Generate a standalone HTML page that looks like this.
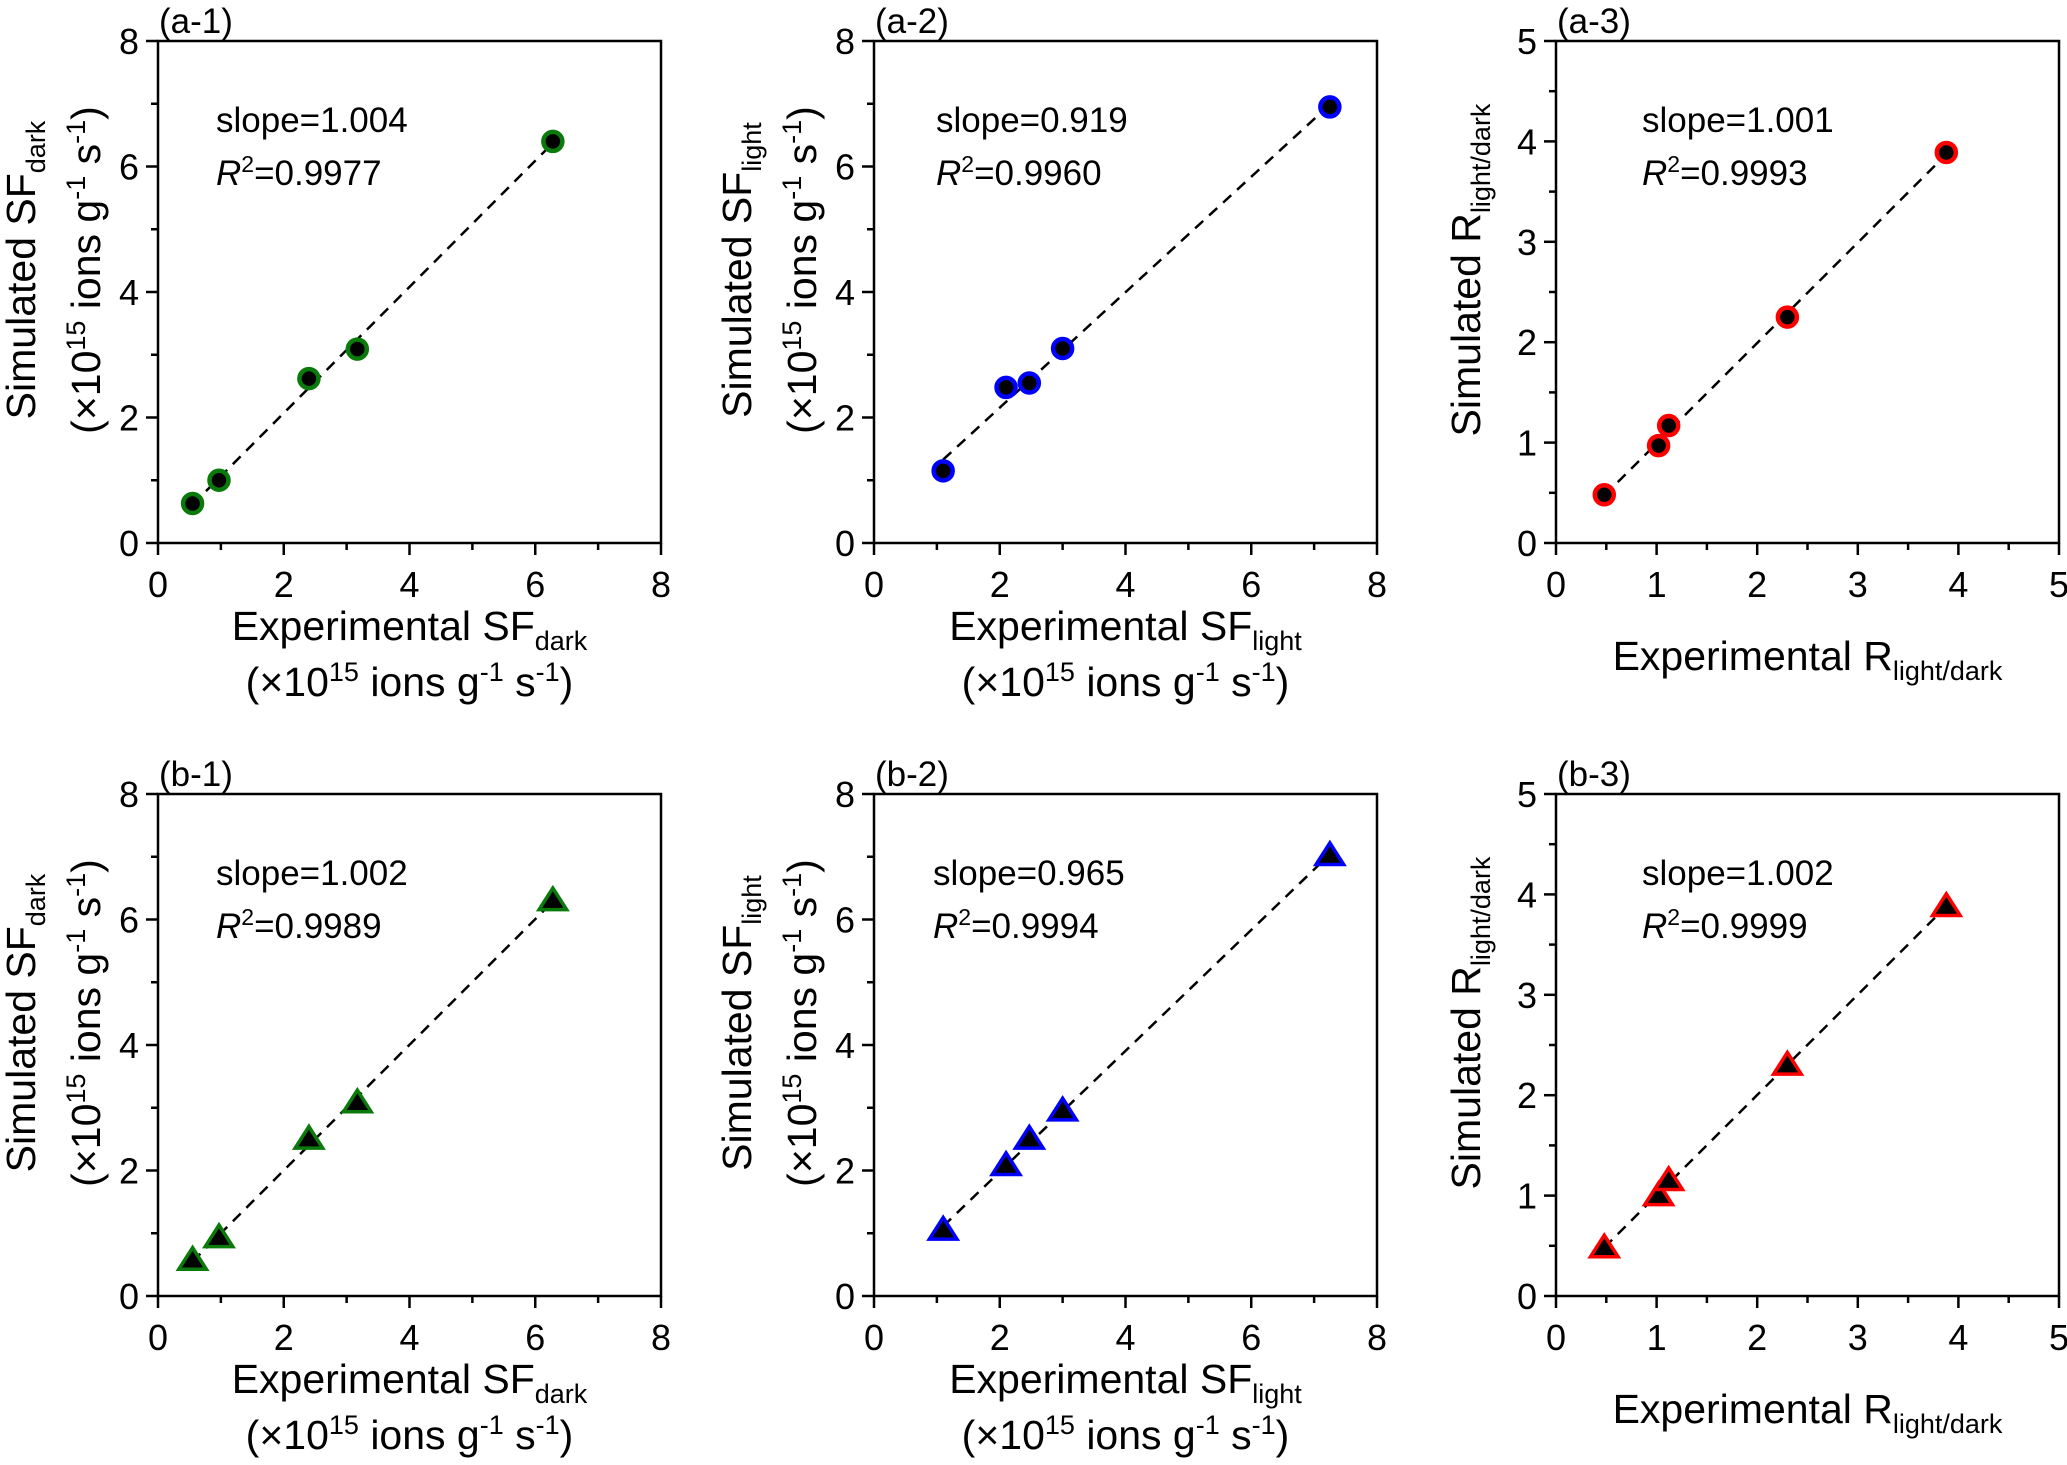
<!DOCTYPE html>
<html><head><meta charset="utf-8">
<style>
html,body{margin:0;padding:0;background:#fff;}
svg{display:block;font-family:"Liberation Sans",Arial,sans-serif;}
</style></head>
<body>
<svg id="fig" width="2067" height="1465" viewBox="0 0 2067 1465" xmlns="http://www.w3.org/2000/svg"></svg>
<script>
// ---- data ----
const a1X = [0.55, 0.97, 2.40, 3.17, 6.28];
const a1Y = [0.63, 1.00, 2.62, 3.09, 6.40];
const a2X = [1.10, 2.10, 2.47, 3.00, 7.25];
const a2Y = [1.15, 2.48, 2.55, 3.10, 6.95];
const a3X = [0.48, 1.02, 1.12, 2.30, 3.88];
const a3Y = [0.48, 0.97, 1.17, 2.25, 3.89];
const b1X = [0.55, 0.97, 2.40, 3.17, 6.28];
const b1Y = [0.57, 0.93, 2.50, 3.08, 6.30];
const b2X = [1.10, 2.10, 2.47, 3.00, 7.25];
const b2Y = [1.05, 2.08, 2.50, 2.95, 7.02];
const b3X = [0.48, 1.02, 1.12, 2.30, 3.88];
const b3Y = [0.48, 1.00, 1.15, 2.30, 3.88];
const slopeLabels = ["1.004", "0.919", "1.001", "1.002", "0.965", "1.002"];
const r2Labels = ["0.9977", "0.9960", "0.9993", "0.9989", "0.9994", "0.9999"];
const panelLabels = ["(a-1)", "(a-2)", "(a-3)", "(b-1)", "(b-2)", "(b-3)"];
const ticksSF = [0, 2, 4, 6, 8];
const ticksR = [0, 1, 2, 3, 4, 5];

const NS = "http://www.w3.org/2000/svg";
const svg = document.getElementById("fig");
function mk(tag, attrs, parent) {
  const e = document.createElementNS(NS, tag);
  for (const k in attrs) e.setAttribute(k, attrs[k]);
  (parent || svg).appendChild(e);
  return e;
}
function tsp(parent, txt, attrs) {
  const t = document.createElementNS(NS, "tspan");
  for (const k in attrs || {}) t.setAttribute(k, attrs[k]);
  t.textContent = txt;
  parent.appendChild(t);
  return t;
}
function unitLine(t) {
  tsp(t, "(×10");
  tsp(t, "15", {"font-size":27, dy:-15});
  tsp(t, " ions g", {dy:15});
  tsp(t, "-1", {"font-size":27, dy:-15});
  tsp(t, " s", {dy:15});
  tsp(t, "-1", {"font-size":27, dy:-15});
  tsp(t, ")", {dy:15});
}

const W = 503, H = 502;
const panels = [
  {x:158, y:41, X:a1X, Y:a1Y, max:8, ticks:ticksSF, minor:1, col:"#0a7a0a", shape:"circle", kind:"dark", ann:58},
  {x:874, y:41, X:a2X, Y:a2Y, max:8, ticks:ticksSF, minor:1, col:"#0000ff", shape:"circle", kind:"light", ann:62},
  {x:1556, y:41, X:a3X, Y:a3Y, max:5, ticks:ticksR, minor:0.5, col:"#ff0000", shape:"circle", kind:"R", ann:86},
  {x:158, y:794, X:b1X, Y:b1Y, max:8, ticks:ticksSF, minor:1, col:"#0a7a0a", shape:"tri", kind:"dark", ann:58},
  {x:874, y:794, X:b2X, Y:b2Y, max:8, ticks:ticksSF, minor:1, col:"#0000ff", shape:"tri", kind:"light", ann:59},
  {x:1556, y:794, X:b3X, Y:b3Y, max:5, ticks:ticksR, minor:0.5, col:"#ff0000", shape:"tri", kind:"R", ann:86}
];

panels.forEach((p, i) => {
  const g = mk("g", {});
  
  
  const sx = v => p.x + v / p.max * W;
  const sy = v => p.y + H - v / p.max * H;
  const bot = p.y + H;

  const fr = mk("rect", {x:p.x, y:p.y, width:W, height:H, fill:"none", stroke:"#000", "stroke-width":2.5}, g);
  
  

  for (let v = 0; v <= p.max + 1e-9; v += p.minor) {
    const major = p.ticks.some(t => Math.abs(t - v) < 1e-9);
    const len = major ? 12 : 7;
    const tx = mk("line", {x1:sx(v), x2:sx(v), y1:bot, y2:bot + len, stroke:"#000", "stroke-width":2.5}, g);
    
    
    const ty = mk("line", {x1:p.x - len, x2:p.x, y1:sy(v), y2:sy(v), stroke:"#000", "stroke-width":2.5}, g);
    
    
  }
  p.ticks.forEach(t => {
    const lx = mk("text", {x:sx(t), y:bot + 54, "font-size":36, "text-anchor":"middle"}, g);
    lx.textContent = t;
    
    
    const ly = mk("text", {x:p.x - 19, y:sy(t) + 13, "font-size":36, "text-anchor":"end"}, g);
    ly.textContent = t;
    
    
  });

  const pl = mk("text", {x:p.x + 1, y:p.y - 8, "font-size":35}, g);
  pl.textContent = panelLabels[i];
  
  

  const s = mk("text", {x:p.x + p.ann, y:p.y + 91, "font-size":35}, g);
  s.textContent = "slope=" + slopeLabels[i];
  
  
  const r = mk("text", {x:p.x + p.ann, y:p.y + 144, "font-size":35}, g);
  tsp(r, "R", {"font-style":"italic"});
  tsp(r, "2", {"font-size":23, dy:-13});
  tsp(r, "=" + r2Labels[i], {dy:13});
  
  

  const n = p.X.length;
  const mx = p.X.reduce((a, b) => a + b) / n, my = p.Y.reduce((a, b) => a + b) / n;
  let sxy = 0, sxx = 0;
  for (let k = 0; k < n; k++) { sxy += (p.X[k] - mx) * (p.Y[k] - my); sxx += (p.X[k] - mx) ** 2; }
  const m = sxy / sxx, c = my - m * mx;
  const x0 = Math.min(...p.X), x1 = Math.max(...p.X);
  const ln = mk("line", {x1:sx(x0), y1:sy(m * x0 + c), x2:sx(x1), y2:sy(m * x1 + c), stroke:"#000", "stroke-width":2.5, "stroke-dasharray":"11 8"}, g);
  
  

  for (let k = 0; k < n; k++) {
    const cx = sx(p.X[k]), cy = sy(p.Y[k]);
    let mkEl;
    if (p.shape === "circle") {
      mkEl = mk("circle", {cx:cx, cy:cy, r:9.5, fill:"#000", stroke:p.col, "stroke-width":4.5}, g);
    } else {
      const a = 12;
      mkEl = mk("polygon", {points:`${cx},${cy - a * 1.05} ${cx - a * 1.15},${cy + a * 0.75} ${cx + a * 1.15},${cy + a * 0.75}`, fill:"#000", stroke:p.col, "stroke-width":3.5}, g);
    }
    
    
  }

  const cxm = p.x + W / 2;
  const sub = p.kind === "R" ? "light/dark" : p.kind;
  const main = p.kind === "R" ? "R" : "SF";
  const xt = mk("text", {x:cxm, y:bot + (p.kind === "R" ? 127 : 97), "font-size":41, "text-anchor":"middle"}, g);
  tsp(xt, "Experimental " + main);
  tsp(xt, sub, {"font-size":27, dy:10});
  
  
  if (p.kind !== "R") {
    const xu = mk("text", {x:cxm, y:bot + 153, "font-size":41, "text-anchor":"middle"}, g);
    unitLine(xu);
    
    
  }
  const cym = p.y + H / 2 - 22;
  const ytX = p.kind === "R" ? p.x - 76 : p.x - 123;
  const yt = mk("text", {x:0, y:0, "font-size":41, "text-anchor":"middle", transform:`translate(${ytX},${cym}) rotate(-90)`}, g);
  tsp(yt, "Simulated " + main);
  tsp(yt, sub, {"font-size":27, dy:10});
  
  
  if (p.kind !== "R") {
    const yu = mk("text", {x:0, y:0, "font-size":41, "text-anchor":"middle", transform:`translate(${p.x - 58},${cym}) rotate(-90)`}, g);
    unitLine(yu);
    
    
  }
});
</script>
</body></html>
